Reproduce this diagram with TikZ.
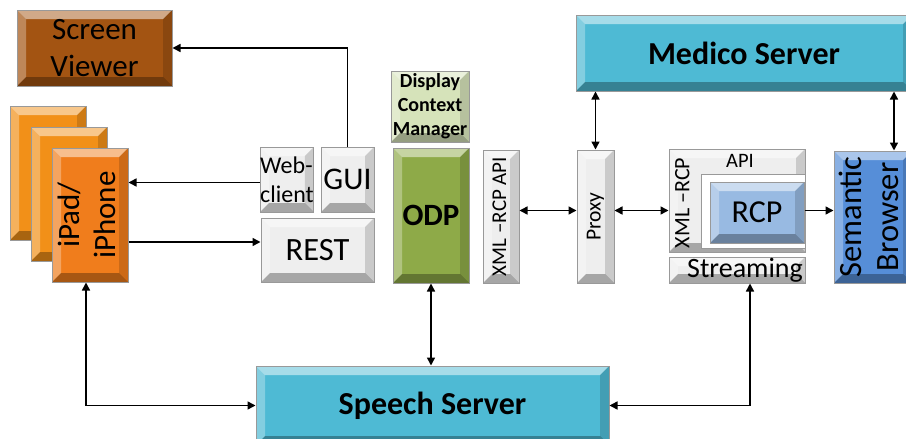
\documentclass[tikz,border=0pt]{standalone}
\usepackage{amsmath}
\usepackage{graphicx}
\usepackage{fontspec}
\setmainfont{Carlito}
\usepackage{tikz}
\usepackage{xcolor}
\usetikzlibrary{arrows.meta}
\definecolor{brn}{RGB}{163,84,18}
\definecolor{orn}{RGB}{240,125,28}
\definecolor{lgrn}{RGB}{214,227,186}
\definecolor{ogrn}{RGB}{142,170,72}
\definecolor{cyn}{RGB}{78,186,212}
\definecolor{lblu}{RGB}{152,186,226}
\definecolor{dblu}{RGB}{86,142,216}
\definecolor{gry}{RGB}{238,238,238}
\newcommand{\rtx}[1]{\rotatebox{90}{\begin{tabular}{@{}c@{}}#1\end{tabular}}}
\newcommand{\fsz}[1]{\fontsize{#1}{1.2\dimexpr#1pt\relax}\selectfont}
\def\bw{9pt}

\begin{document}
\begin{tikzpicture}[x=1pt,y=-1pt,>={Triangle[length=8pt,width=8pt]},line width=1.5pt]%
  \tikzstyle{bev}=[draw=black!40,line width=1pt,inner sep=0pt,align=center,path picture={
    \path (path picture bounding box.north west) coordinate (q1) (path picture bounding box.north east) coordinate (q2)
      (path picture bounding box.south east) coordinate (q3) (path picture bounding box.south west) coordinate (q4);
    \fill[white,opacity=.5] (q1) -- (q2) -- ([shift={(-\bw,-\bw)}]q2) -- ([shift={(\bw,-\bw)}]q1) -- cycle;
    \fill[white,opacity=.3] (q1) -- (q4) -- ([shift={(\bw,\bw)}]q4) -- ([shift={(\bw,-\bw)}]q1) -- cycle;
    \fill[black,opacity=.15] (q2) -- (q3) -- ([shift={(-\bw,\bw)}]q3) -- ([shift={(-\bw,-\bw)}]q2) -- cycle;
    \fill[black,opacity=.3] (q4) -- (q3) -- ([shift={(-\bw,\bw)}]q3) -- ([shift={(\bw,\bw)}]q4) -- cycle;
  }]
  \tikzstyle{txn}=[inner sep=0pt,align=center]
  \useasboundingbox (0,0) rectangle (906,439);
  \node(sv)[bev,fill=brn,minimum width=155pt,minimum height=76pt,font=\fsz{31}] at (94.5,48) {Screen\\Viewer};
  \node(ipb)[bev,fill=orn!85!yellow,minimum width=76pt,minimum height=134pt] at (48,173) {};
  \node(ipm)[bev,fill=orn!85!yellow,minimum width=76pt,minimum height=134pt] at (69,194) {};
  \node(ipd)[bev,fill=orn,minimum width=76pt,minimum height=134pt,font=\fontsize{31}{36}\selectfont] at (90,215) {\rtx{iPad/\\iPhone}};
  \node(web)[bev,fill=gry,minimum width=52pt,minimum height=65pt,align=left,font=\fsz{24}] at (287,179.5) {Web-\\client};
  \node(gui)[bev,fill=gry,minimum width=53pt,minimum height=65pt,font=\fsz{31.5}] at (347.5,179.5) {GUI};
  \node(rest)[bev,fill=gry,minimum width=113pt,minimum height=64pt,font=\fsz{32.5}] at (317.5,250) {REST};
  \node(dcm)[bev,fill=lgrn,minimum width=78pt,minimum height=71pt,font=\bfseries\fontsize{20}{24}\selectfont] at (430,106.5) {Display\\Context\\Manager};
  \node(odp)[bev,fill=ogrn,minimum width=76pt,minimum height=135pt,font=\bfseries\fsz{31}] at (431,215.5) {ODP};
  \node(xapi)[bev,fill=gry,minimum width=36pt,minimum height=133pt,font=\fsz{21}] at (501,216.5) {\rtx{XML –RCP API}};
  \node(prx)[bev,fill=gry,minimum width=37pt,minimum height=133pt,font=\fsz{21.5}] at (595.5,216.5) {\rtx{Proxy}};
  \node(xrc)[bev,fill=gry,minimum width=136pt,minimum height=103pt] at (737,200.5) {};
  \node(xin)[draw=black!40,line width=1pt,fill=white,minimum width=104pt,minimum height=74pt] at (753,211) {};
  \node(api)[txn,font=\fsz{20.5}] at (740,161) {API};
  \node(xrl)[txn,font=\fsz{22}] at (684,203) {\rtx{XML –RCP}};
  \node(rcp)[bev,fill=lblu,minimum width=94pt,minimum height=61pt,font=\fsz{32}] at (757,212.5) {RCP};
  \node(strm)[bev,fill=gry,minimum width=136pt,minimum height=26pt,font=\fsz{28}] at (737,270) {\hspace{16pt}\raisebox{-7pt}[0pt][0pt]{Streaming}};
  \node(sem)[bev,fill=dblu,minimum width=78pt,minimum height=132pt,font=\fontsize{32.5}{37}\selectfont] at (873,217) {\rtx{Semantic\\Browser}};
  \node(med)[bev,fill=cyn,minimum width=336pt,minimum height=76pt,font=\bfseries\fsz{32}] at (744,53) {Medico Server};
  \node(sp)[bev,fill=cyn,minimum width=353pt,minimum height=79pt,font=\bfseries\fsz{32}] at (432.5,405.5) {Speech Server};
  \draw[->] (gui.north) |- (sv.east);
  \draw[->] ([yshift=-3pt]web.west) -- ([yshift=-3pt]web.west -| ipd.east);
  \draw[->] ([yshift=8pt]rest.west -| ipd.east) -- ([yshift=8pt]rest.west);
  \draw[<->] ([xshift=-4pt]ipd.south) |- (sp.west);
  \draw[<->] (odp.south) -- (odp.south |- sp.north);
  \draw[<->] (sp.east) -| ([xshift=13pt]strm.south);
  \draw[<->] ([yshift=6pt]xapi.east) -- ([yshift=6pt]prx.west);
  \draw[<->] ([yshift=6pt]prx.east) -- ([yshift=6pt]prx.east -| xrc.west);
  \draw[->] ([yshift=2pt]rcp.east) -- ([yshift=2pt]rcp.east -| sem.west);
  \draw[<->] (prx.north) -- (prx.north |- med.south);
  \draw[<->] ([xshift=21pt]sem.north) -- ([xshift=21pt]sem.north |- med.south);
\end{tikzpicture}
\end{document}
